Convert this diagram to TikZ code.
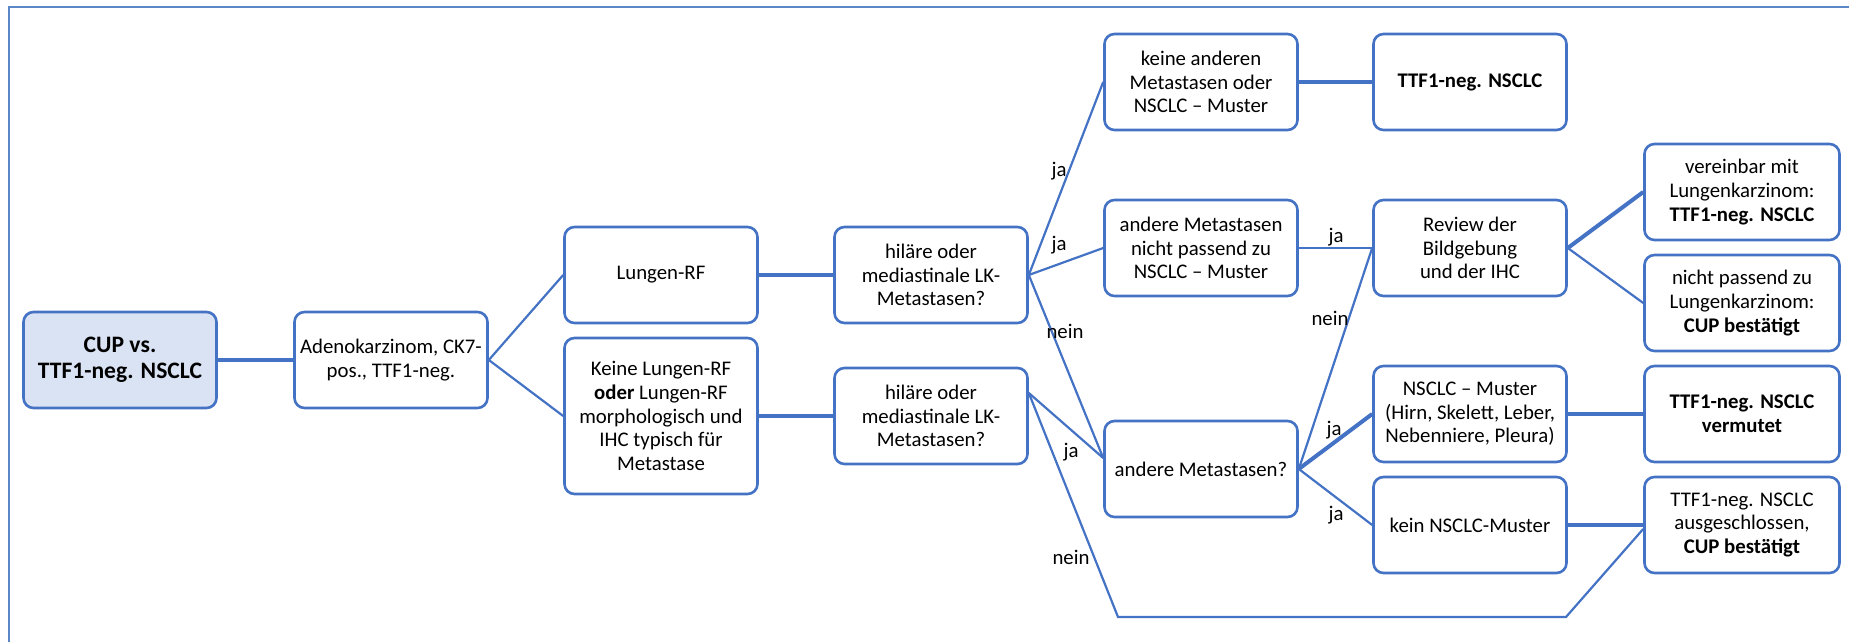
\documentclass[tikz,border=0pt]{standalone}
\usepackage{fontspec}
\setmainfont{Carlito}
\usepackage{xcolor}
\usepackage{tikz}
\usetikzlibrary{positioning}

\definecolor{boxblue}{HTML}{4472C4}
\definecolor{cupfill}{HTML}{DAE3F3}
\definecolor{framblue}{HTML}{5B87C7}

\begin{document}
\begin{tikzpicture}[x=0.5pt,y=-0.5pt,
  box/.style={draw=boxblue,line width=1.3pt,rounded corners=5pt,align=center,
    minimum width=96.5pt,minimum height=48pt,inner sep=1pt,
    font=\fontsize{10.4}{11.8}\selectfont},
  lbl/.style={font=\fontsize{10.4}{11.8}\selectfont,inner sep=0pt},
  thin/.style={draw=boxblue,line width=1.1pt},
  thick/.style={draw=boxblue,line width=2pt}]
\useasboundingbox (0,0) rectangle (1849,642);
\draw[framblue,line width=1.3pt] (9,642) -- (9,7) -- (1849,7);

\node[box,fill=cupfill,font=\fontsize{11.8}{13.2}\selectfont\bfseries] (cup) at (120,360) {CUP vs.\\TTF1-neg. NSCLC};
\node[box] (adeno) at (391,360) {Adenokarzinom, CK7-\\pos., TTF1-neg.};
\node[box] (lrf) at (661,275) {Lungen-RF};
\node[box,minimum height=78pt] (keinelrf) at (661,416) {Keine Lungen-RF\\\textbf{oder} Lungen-RF\\morphologisch und\\IHC typisch für\\Metastase};
\node[box] (hil1) at (931,275) {hiläre oder\\mediastinale LK-\\Metastasen?};
\node[box] (hil2) at (931,416) {hiläre oder\\mediastinale LK-\\Metastasen?};
\node[box] (keineand) at (1201,82) {keine anderen\\Metastasen oder\\NSCLC – Muster};
\node[box] (ttfa) at (1470,82) {\textbf{TTF1-neg. NSCLC}};
\node[box] (andpass) at (1201,248) {andere Metastasen\\nicht passend zu\\NSCLC – Muster};
\node[box] (review) at (1470,248) {Review der\\Bildgebung\\und der IHC};
\node[box,minimum width=97.5pt] (vereinbar) at (1742,192) {vereinbar mit\\Lungenkarzinom:\\\textbf{TTF1-neg. NSCLC}};
\node[box,minimum width=97.5pt] (nichtpass) at (1742,303) {nicht passend zu\\Lungenkarzinom:\\\textbf{CUP bestätigt}};
\node[box] (andmet) at (1201,469) {andere Metastasen?};
\node[box] (muster) at (1470,414) {NSCLC – Muster\\(Hirn, Skelett, Leber,\\Nebenniere, Pleura)};
\node[box] (keinmuster) at (1470,525) {kein NSCLC-Muster};
\node[box,minimum width=97.5pt] (vermutet) at (1742,414) {\textbf{TTF1-neg. NSCLC}\\\textbf{vermutet}};
\node[box,minimum width=97.5pt] (ausgeschl) at (1742,525) {TTF1-neg. NSCLC\\ausgeschlossen,\\\textbf{CUP bestätigt}};

\coordinate (bl) at (1118,617);
\coordinate (br) at (1566,617);

\draw[thick] (cup.east) -- (adeno.west);
\draw[thin] (adeno.east) -- (lrf.west);
\draw[thin] (adeno.east) -- (keinelrf.west);
\draw[thick] (lrf.east) -- (hil1.west);
\draw[thick] (keinelrf.east) -- (hil2.west);
\draw[thin] (hil1.east) -- (keineand.west);
\draw[thin] (hil1.east) -- (andpass.west);
\draw[thin] (hil1.east) -- ([yshift=5.5pt]andmet.west);
\draw[thin] ([yshift=11.5pt]hil2.east) -- ([yshift=5.5pt]andmet.west);
\draw[thin] ([yshift=11.5pt]hil2.east) -- (bl) -- (br) -- ([yshift=-2pt]ausgeschl.west);
\draw[thick] (keineand.east) -- (ttfa.west);
\draw[thin,line width=1.3pt] (andpass.east) -- (review.west);
\draw[thin] (andmet.east) -- (review.west);
\draw[thick] (andmet.east) -- (muster.west);
\draw[thin] (andmet.east) -- (keinmuster.west);
\draw[thick] (muster.east) -- (vermutet.west);
\draw[thick] (keinmuster.east) -- (ausgeschl.west);
\draw[thick] (review.east) -- (vereinbar.west);
\draw[thin] (review.east) -- (nichtpass.west);

\node[lbl] (ja1) at (1059,171) {ja};
\node[lbl] (ja2) at (1059,245) {ja};
\node[lbl] (nein1) at (1065,331) {nein};
\node[lbl] (ja3) at (1336,237) {ja};
\node[lbl] (nein2) at (1330,318) {nein};
\node[lbl] (ja4) at (1334,430) {ja};
\node[lbl] (ja5) at (1336,515) {ja};
\node[lbl] (ja6) at (1071,452) {ja};
\node[lbl] (nein3) at (1071,557) {nein};
\end{tikzpicture}
\end{document}
